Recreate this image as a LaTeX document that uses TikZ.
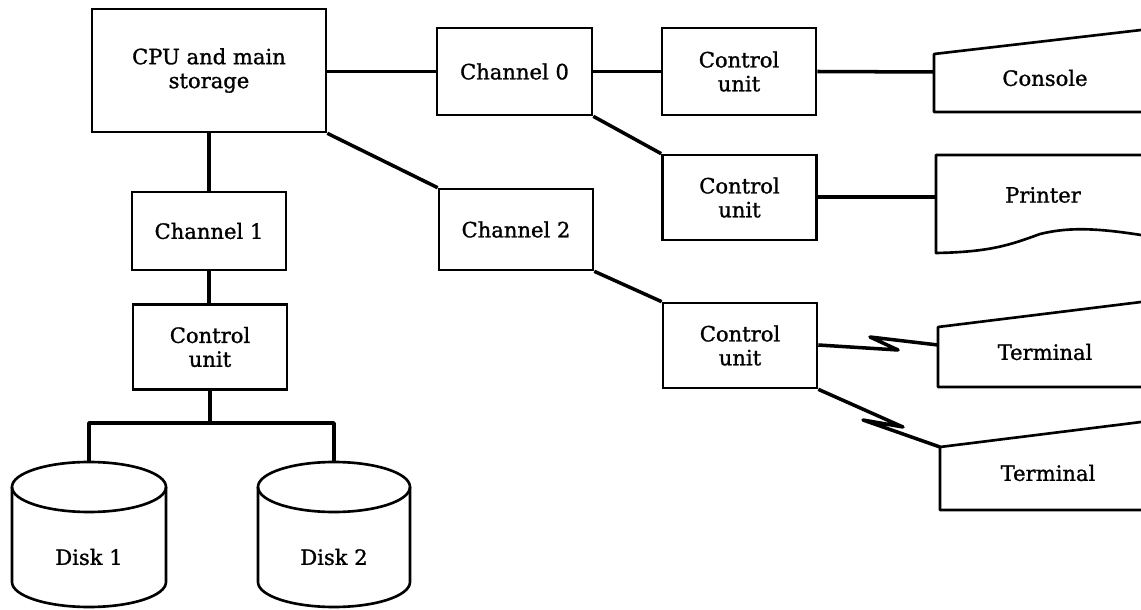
\documentclass[tikz,border=0pt]{standalone}
\usepackage{fontspec}
\setmainfont{DejaVu Serif}[BoldFont={DejaVu Serif},BoldFeatures={FakeBold=1.2}]
\usepackage{tikz}
\usetikzlibrary{positioning}

\begin{document}
\begin{tikzpicture}[scale=0.2,
  unit/.style={draw, line width=1.5pt, minimum width=3.08cm, minimum height=1.7cm, align=center},
  wire/.style={line width=2pt, line join=round},
  outline/.style={line width=1.5pt, line join=round}]
\tikzstyle{every node}+=[inner sep=0pt, font=\fontsize{12}{13.6}\selectfont\bfseries]
\useasboundingbox (0,0) rectangle (114.1,-61.0);
\node [unit, minimum width=4.68cm, minimum height=2.46cm] (cpu) at (20.9,-7.05) {CPU and main\\storage};
\node [unit, minimum width=3.1cm, minimum height=1.74cm] (ch0) at (51.45,-7.15) {Channel 0};
\node [unit, minimum height=1.74cm] (cu0) at (73.9,-7.15) {Control\\unit};
\node [unit] (cu1) at (73.95,-19.75) {Control\\unit};
\node [unit, minimum height=1.56cm] (ch1) at (20.9,-23.1) {Channel 1};
\node [unit, minimum height=1.62cm] (ch2) at (51.6,-22.95) {Channel 2};
\node [unit] (cu3) at (21.0,-34.7) {Control\\unit};
\node [unit] (cu2) at (74.0,-34.55) {Control\\unit};
\draw [outline] (114.1,-3.0) -- (93.4,-5.4) -- (93.4,-11.2) -- (114.1,-11.2);
\node (console) at (104.5,-7.8) {Console};
\coordinate (consolein) at (93.4,-7.2);
\draw [outline] (114.1,-15.5) -- (93.6,-15.5) -- (93.6,-25.3) .. controls (99,-25.2) and (101,-24.5) .. (104,-23.4) .. controls (106.5,-22.8) and (109,-22.7) .. (114.1,-23.5);
\node (printer) at (104.3,-19.5) {Printer};
\coordinate (printerin) at (93.6,-19.7);
\draw [outline] (114.1,-30.2) -- (93.8,-32.7) -- (93.8,-38.7) -- (114.1,-38.7);
\node (term1) at (104.5,-35.2) {Terminal};
\coordinate (term1in) at (93.8,-34.5);
\draw [outline] (114.1,-42.2) -- (94.0,-44.7) -- (94.0,-51.0) -- (114.1,-51.0);
\node (term2) at (104.8,-47.3) {Terminal};
\coordinate (term2in) at (94.0,-44.7);
\draw [outline] (1.2,-48.7) -- (1.2,-58.2) arc (180:360:7.7 and 2.5) -- (16.6,-48.7);
\draw [outline] (8.9,-48.7) ellipse (7.7 and 2.5);
\node (disk1) at (8.9,-55.7) {Disk 1};
\coordinate (disk1top) at (8.9,-46.2);
\draw [outline] (25.8,-48.7) -- (25.8,-58.2) arc (180:360:7.6 and 2.5) -- (41.0,-48.7);
\draw [outline] (33.4,-48.7) ellipse (7.6 and 2.5);
\node (disk2) at (33.4,-55.7) {Disk 2};
\coordinate (disk2top) at (33.4,-46.2);
\coordinate (bus) at (21.0,-42.3);
\draw [wire] (ch0.west -| cpu.east) -- (ch0.west);
\draw [wire] (ch0) -- (cu0);
\draw [wire] (cu0.east) -- (consolein);
\draw [wire] (ch0.south east) -- (cu1.north west);
\draw [wire] (cpu.south east) -- (ch2.north west);
\draw [wire] (cpu.south) -- (ch1.north);
\draw [wire] (ch1.south) -- (ch1.south |- cu3.north);
\draw [wire] (cu3.south) -- (bus);
\draw [wire] (disk1top) -- (disk1top |- bus) -- (disk2top |- bus) -- (disk2top);
\draw [wire] (ch2.south east) -- (cu2.north west);
\draw [wire] (cu1.east |- printerin) -- (printerin);
\draw [wire] (cu2.east |- term1in) -- (89.8,-35.0) -- (87.0,-33.7) -- (term1in);
\draw [wire] (cu2.south east) -- (90.3,-42.7) -- (86.3,-42.0) -- (term2in);
\end{tikzpicture}
\end{document}
